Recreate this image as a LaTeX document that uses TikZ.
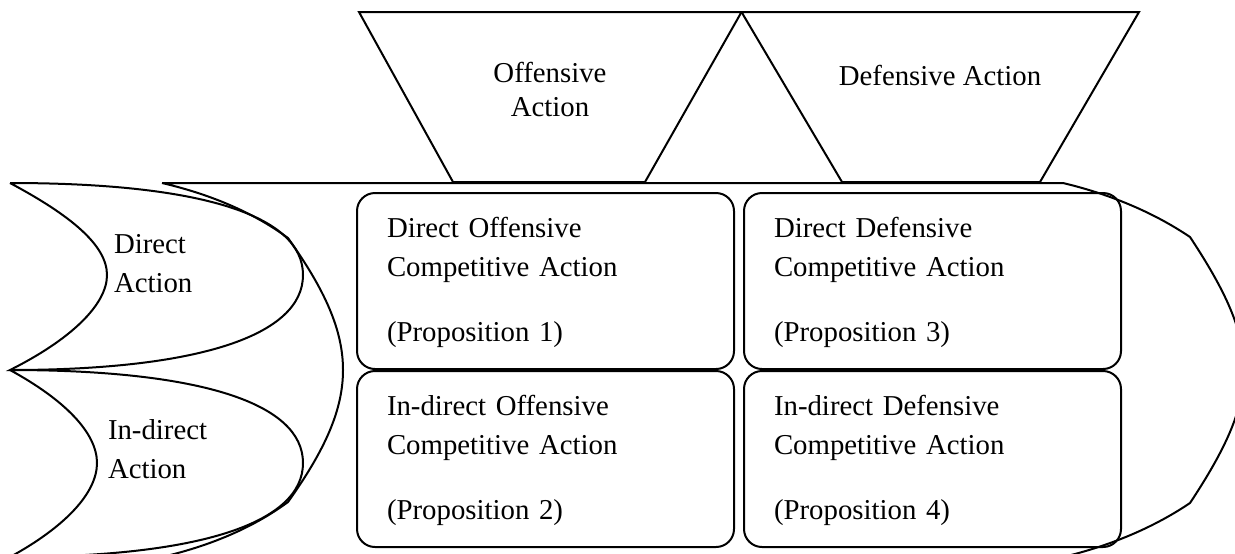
\documentclass[tikz,border=0pt]{standalone}
\usepackage{fontspec}
\setmainfont{Liberation Serif}
\usepackage{tikz}
\usetikzlibrary{positioning}

\tikzset{
	txt/.style={font=\fontsize{14.4pt}{19.5pt}\selectfont, inner sep=0pt},
	propbox/.style={draw, txt, rounded corners=9pt, line width=1pt,
		minimum width=188.5pt, minimum height=88pt,
		text width=158.5pt, inner xsep=15pt, align=left},
}

\begin{document}
\begin{tikzpicture}[x=.5pt, y=-.5pt, line width=1pt]
	\useasboundingbox (0,0) rectangle (1235,553);
	\clip (0,0) rectangle (1235,553);

	% body
	\draw (162,183) -- (1063,183)
		.. controls (1105,193) and (1150,210) .. (1190,237)
		.. controls (1225,290) and (1244,330) .. (1244,370)
		.. controls (1244,410) and (1225,450) .. (1190,503)
		.. controls (1150,530) and (1105,547) .. (1063,557)
		-- (162,557)
		.. controls (205,547) and (250,530) .. (288,502)
		.. controls (325,450) and (343,410) .. (343,370)
		.. controls (343,330) and (325,290) .. (288,238)
		.. controls (250,210) and (205,193) .. (162,183);

	% crescents on the left
	\draw (10,183) .. controls (200,183) and (303,215) .. (303,275)
		.. controls (303,335) and (200,370) .. (10,370)
		.. controls (70,340) and (107,305) .. (107,275)
		.. controls (107,245) and (70,215) .. (10,183);
	\draw (10,370) .. controls (200,370) and (303,403) .. (303,463)
		.. controls (303,523) and (200,557) .. (10,557)
		.. controls (65,527) and (97,493) .. (97,463)
		.. controls (97,433) and (65,400) .. (10,370);

	\node[txt, anchor=west, align=left] (direct) at (113,264) {Direct\\Action};
	\node[txt, anchor=west, align=left] (indirect) at (107,449) {In-direct\\Action};

	% trapezoids on top
	\coordinate (apex) at (741.5,12);
	\draw (359,12) -- (apex) -- (645,182) -- (453,182) -- cycle;
	\draw (apex) -- (1139,12) -- (1040,182) -- (842,182) -- cycle;

	\node[txt, align=center, font=\fontsize{14.4pt}{17pt}\selectfont] (off) at (550,89) {Offensive\\Action};
	\node[txt] (def) at (940,75) {Defensive Action};

	% propositions
	\node[propbox] (dO) at (545.5,281) {\rule{0pt}{12pt}Direct Offensive\\Competitive Action\\[13pt](Proposition 1)};
	\node[propbox, right=4pt of dO] (dD) {\rule{0pt}{12pt}Direct Defensive\\Competitive Action\\[13pt](Proposition 3)};
	\node[propbox, below=0pt of dO] (iO) {\rule{0pt}{12pt}In-direct Offensive\\Competitive Action\\[13pt](Proposition 2)};
	\node[propbox, below=0pt of dD] (iD) {\rule{0pt}{12pt}In-direct Defensive\\Competitive Action\\[13pt](Proposition 4)};
\end{tikzpicture}
\end{document}
